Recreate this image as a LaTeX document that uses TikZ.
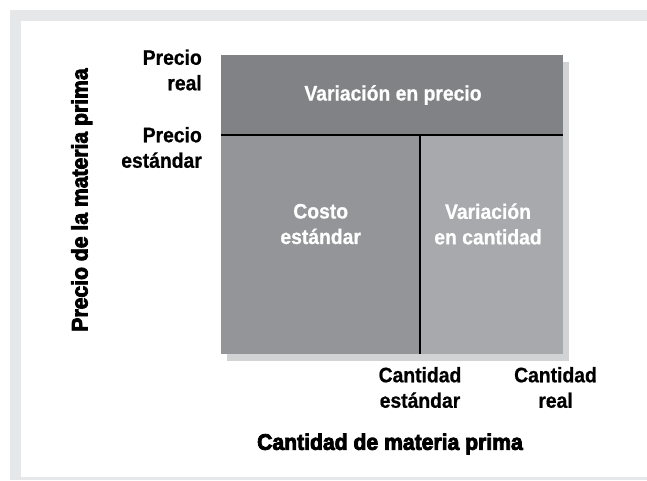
\documentclass[tikz,border=0pt]{standalone}
\usepackage{fontspec}
\setmainfont{Liberation Sans}
\newfontfamily\labfont[FakeStretch=0.92,FakeBold=0.7]{Liberation Sans Bold}
\newfontfamily\heavy[FakeStretch=0.94,FakeBold=3.6]{Liberation Sans Bold}
\definecolor{framegray}{HTML}{E6E7E8}
\definecolor{shadowgray}{HTML}{D1D3D4}
\definecolor{topgray}{HTML}{818286}
\definecolor{leftgray}{HTML}{939598}
\definecolor{rightgray}{HTML}{A7A9AC}
\begin{document}
\begin{tikzpicture}[x=1pt,y=-1pt,
  lab/.style={font=\labfont\fontsize{21}{25.5}\selectfont, inner sep=0pt},
  inlab/.style={lab, text=white, align=center},
  axlab/.style={font=\heavy\fontsize{22.5}{25}\selectfont, inner sep=0pt},
  divider/.style={line width=2pt}]
\useasboundingbox (0,0) rectangle (647,480);
% frame
\fill[framegray] (10,10) rectangle (647,480);
\fill[white] (20.7,20.7) rectangle (647,477);
% shadow and regions
\fill[shadowgray] (227,62) rectangle (569,361);
\fill[topgray] (220.5,55) rectangle (562.5,135);
\fill[leftgray] (220.5,135) rectangle (420,354);
\fill[rightgray] (420,135) rectangle (562.5,354);
\coordinate (hl) at (220.5,135);
\coordinate (hr) at (562.5,135);
\coordinate (vt) at (420,135);
\coordinate (vb) at (420,354);
\draw[divider] (hl) -- (hr);
\draw[divider] (vt) -- (vb);
% inner labels
\node[inlab] (vp) at (393,95) {Variación en precio};
\node[inlab] (ce) at (320.7,224) {Costo\\estándar};
\node[inlab] (vc) at (488,224) {Variación\\en cantidad};
% axis tick labels
\node[lab, align=right, anchor=east] (pr) at (202,70) {Precio\\real};
\node[lab, align=right, anchor=east] (pe) at (202,147.5) {Precio\\estándar};
\node[lab, align=center] (cs) at (420,387.5) {Cantidad\\estándar};
\node[lab, align=center] (cr) at (555.5,387.5) {Cantidad\\real};
% axis titles
\node[axlab] (xt) at (390,444) {Cantidad de materia prima};
\node[axlab, rotate=90] (yt) at (81.7,200) {Precio de la materia prima};
\end{tikzpicture}
\end{document}
